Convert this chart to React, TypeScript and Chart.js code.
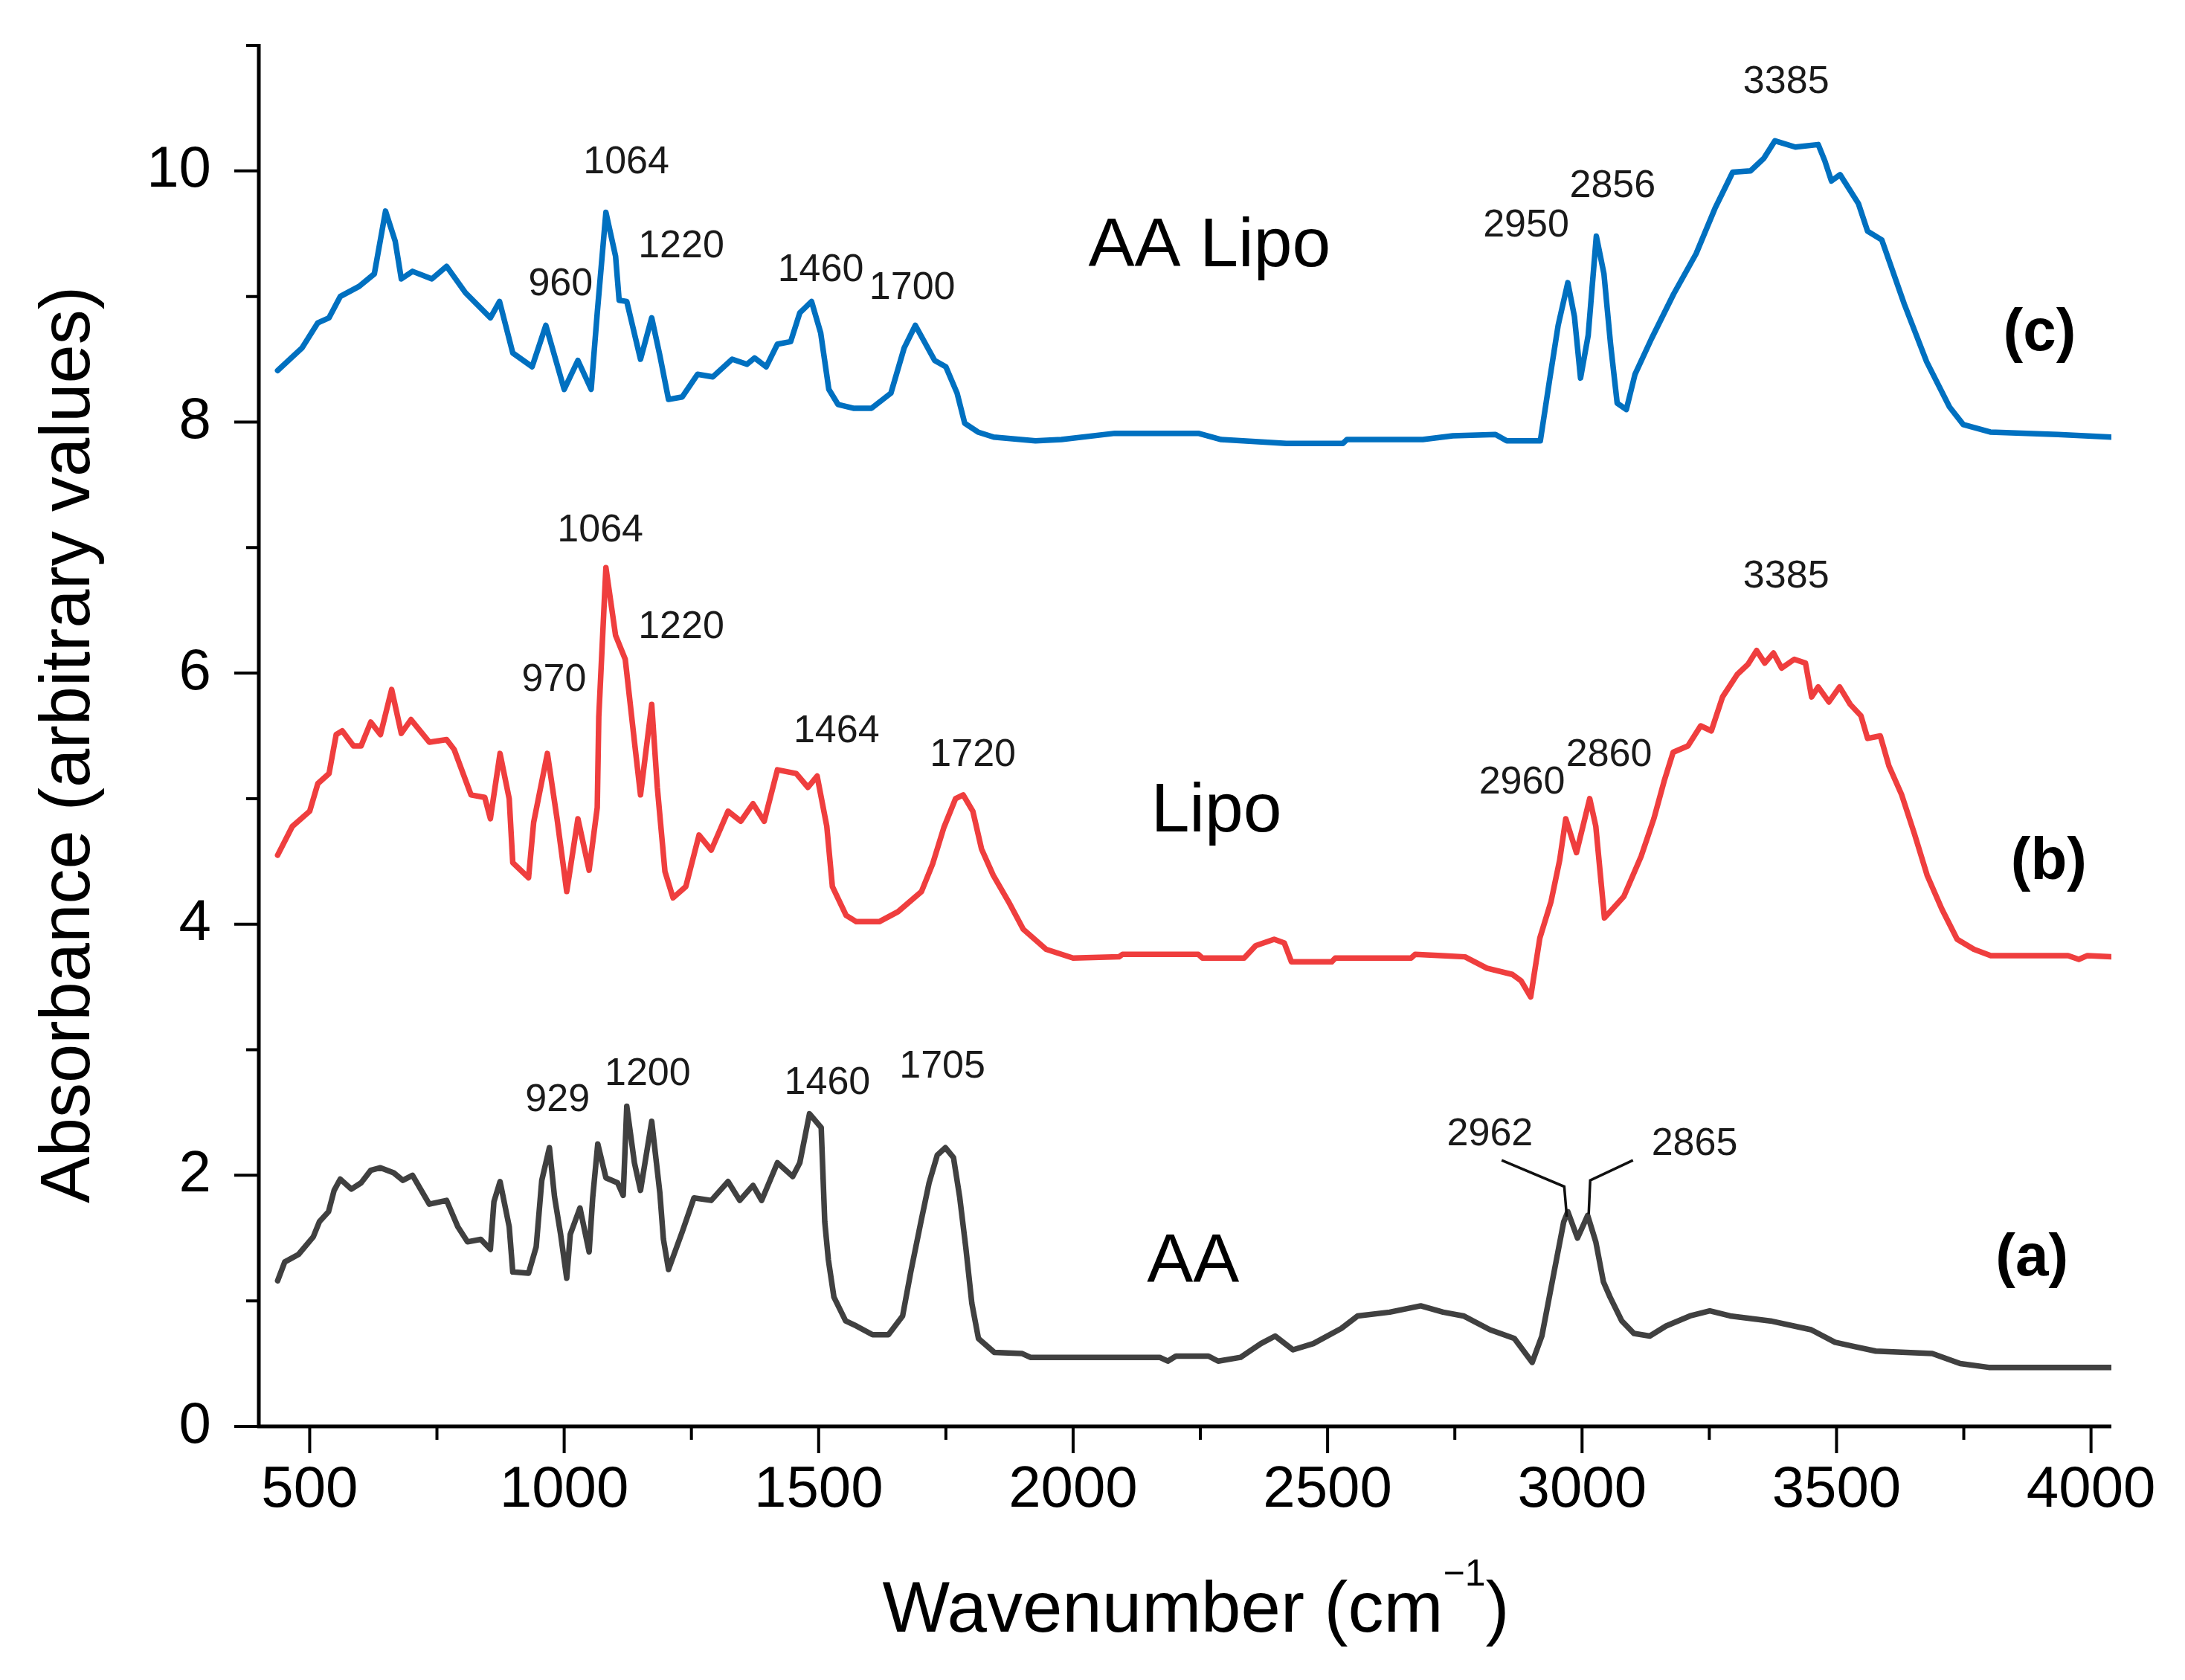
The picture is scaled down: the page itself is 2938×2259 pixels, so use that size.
import React, { useEffect, useRef } from 'react';
import Chart from 'chart.js/auto';

// FTIR spectra (wavenumber in cm-1, absorbance offset per sample)
const aaLipoWn = [437, 485, 516, 538, 560, 597, 627, 649, 668, 680, 702, 740, 769, 806, 855, 873, 899, 937, 964, 1000, 1027, 1053, 1065, 1082, 1101, 1108, 1123, 1150, 1172, 1188, 1205, 1232, 1262, 1292, 1330, 1359, 1374, 1397, 1419, 1445, 1463, 1486, 1504, 1520, 1538, 1568, 1604, 1642, 1668, 1690, 1728, 1750, 1772, 1787, 1813, 1844, 1926, 1977, 2082, 2246, 2291, 2419, 2530, 2538, 2687, 2746, 2830, 2852, 2918, 2936, 2953, 2972, 2985, 2997, 3012, 3028, 3043, 3056, 3069, 3087, 3104, 3136, 3180, 3224, 3261, 3296, 3331, 3357, 3379, 3419, 3464, 3477, 3490, 3507, 3543, 3561, 3589, 3633, 3677, 3722, 3749, 3802, 3935, 4040];
const aaLipoAbs = [8.41, 8.59, 8.79, 8.83, 9.0, 9.08, 9.18, 9.68, 9.44, 9.14, 9.2, 9.14, 9.24, 9.03, 8.83, 8.96, 8.55, 8.44, 8.77, 8.26, 8.49, 8.26, 8.87, 9.67, 9.32, 8.97, 8.96, 8.5, 8.83, 8.53, 8.18, 8.2, 8.38, 8.36, 8.5, 8.46, 8.51, 8.44, 8.62, 8.64, 8.87, 8.96, 8.71, 8.26, 8.14, 8.11, 8.11, 8.23, 8.59, 8.77, 8.49, 8.44, 8.23, 7.99, 7.92, 7.88, 7.85, 7.86, 7.91, 7.91, 7.86, 7.83, 7.83, 7.86, 7.86, 7.89, 7.9, 7.85, 7.85, 8.33, 8.77, 9.11, 8.84, 8.35, 8.69, 9.48, 9.18, 8.62, 8.15, 8.1, 8.38, 8.66, 9.02, 9.34, 9.7, 9.99, 10.0, 10.1, 10.24, 10.19, 10.21, 10.08, 9.92, 9.97, 9.74, 9.52, 9.45, 8.94, 8.48, 8.12, 7.98, 7.92, 7.9, 7.88];

const lipoWn = [437, 466, 500, 516, 538, 552, 564, 586, 601, 620, 639, 661, 680, 699, 735, 769, 784, 817, 844, 855, 874, 892, 899, 930, 940, 967, 986, 1005, 1027, 1049, 1065, 1068, 1082, 1101, 1120, 1139, 1150, 1172, 1183, 1198, 1214, 1239, 1265, 1289, 1322, 1347, 1371, 1393, 1419, 1456, 1479, 1497, 1516, 1527, 1554, 1574, 1619, 1656, 1702, 1724, 1746, 1769, 1784, 1803, 1820, 1843, 1873, 1902, 1947, 2000, 2090, 2097, 2246, 2254, 2336, 2359, 2395, 2415, 2429, 2508, 2515, 2664, 2672, 2724, 2770, 2813, 2863, 2880, 2899, 2917, 2939, 2956, 2968, 2989, 3015, 3027, 3044, 3082, 3116, 3141, 3162, 3179, 3208, 3233, 3254, 3276, 3305, 3326, 3343, 3359, 3376, 3392, 3417, 3439, 3451, 3464, 3485, 3506, 3527, 3548, 3561, 3586, 3603, 3628, 3653, 3678, 3707, 3737, 3770, 3803, 3955, 3976, 3993, 4040];
const lipoAbs = [4.55, 4.78, 4.9, 5.12, 5.2, 5.51, 5.54, 5.42, 5.42, 5.61, 5.51, 5.87, 5.52, 5.63, 5.45, 5.47, 5.39, 5.03, 5.01, 4.84, 5.36, 5.0, 4.49, 4.37, 4.81, 5.36, 4.84, 4.26, 4.84, 4.43, 4.93, 5.65, 6.84, 6.3, 6.11, 5.42, 5.03, 5.75, 5.09, 4.42, 4.21, 4.3, 4.71, 4.59, 4.9, 4.82, 4.96, 4.82, 5.23, 5.2, 5.09, 5.18, 4.78, 4.3, 4.07, 4.02, 4.02, 4.1, 4.26, 4.48, 4.77, 5.0, 5.03, 4.9, 4.6, 4.39, 4.18, 3.96, 3.8, 3.73, 3.74, 3.76, 3.76, 3.73, 3.73, 3.83, 3.88, 3.85, 3.7, 3.7, 3.73, 3.73, 3.76, 3.75, 3.74, 3.65, 3.6, 3.55, 3.42, 3.89, 4.18, 4.51, 4.84, 4.57, 5.0, 4.78, 4.05, 4.22, 4.54, 4.84, 5.15, 5.37, 5.42, 5.58, 5.54, 5.81, 5.99, 6.07, 6.18, 6.08, 6.16, 6.04, 6.11, 6.08, 5.81, 5.89, 5.77, 5.89, 5.75, 5.66, 5.48, 5.5, 5.26, 5.03, 4.72, 4.39, 4.12, 3.88, 3.8, 3.75, 3.75, 3.72, 3.75, 3.74];

const aaWn = [437, 451, 478, 507, 519, 537, 548, 560, 582, 601, 620, 639, 665, 683, 702, 735, 769, 791, 810, 836, 855, 862, 874, 892, 899, 930, 945, 956, 971, 981, 993, 1005, 1012, 1031, 1049, 1056, 1066, 1082, 1105, 1116, 1123, 1138, 1150, 1172, 1188, 1195, 1205, 1232, 1255, 1289, 1322, 1345, 1371, 1388, 1419, 1449, 1463, 1482, 1505, 1512, 1519, 1530, 1553, 1574, 1606, 1637, 1665, 1681, 1701, 1717, 1733, 1749, 1765, 1777, 1789, 1801, 1814, 1845, 1900, 1916, 2170, 2186, 2202, 2266, 2285, 2329, 2369, 2397, 2432, 2472, 2527, 2559, 2622, 2683, 2727, 2767, 2819, 2867, 2902, 2921, 2945, 2964, 2972, 2991, 3011, 3027, 3042, 3055, 3078, 3102, 3133, 3165, 3212, 3251, 3291, 3370, 3450, 3497, 3530, 3577, 3688, 3743, 3799, 4040];
const aaAbs = [1.16, 1.31, 1.37, 1.51, 1.63, 1.71, 1.88, 1.97, 1.89, 1.94, 2.04, 2.06, 2.02, 1.96, 2.0, 1.77, 1.8, 1.59, 1.47, 1.49, 1.41, 1.79, 1.95, 1.59, 1.23, 1.22, 1.43, 1.96, 2.22, 1.83, 1.53, 1.18, 1.53, 1.74, 1.39, 1.82, 2.25, 1.98, 1.94, 1.84, 2.55, 2.1, 1.88, 2.43, 1.86, 1.49, 1.25, 1.55, 1.82, 1.8, 1.95, 1.8, 1.92, 1.8, 2.1, 1.99, 2.1, 2.49, 2.38, 1.63, 1.33, 1.03, 0.84, 0.8, 0.73, 0.73, 0.88, 1.23, 1.63, 1.94, 2.16, 2.22, 2.14, 1.83, 1.43, 0.98, 0.7, 0.59, 0.58, 0.55, 0.55, 0.52, 0.56, 0.56, 0.52, 0.55, 0.66, 0.72, 0.61, 0.66, 0.78, 0.88, 0.91, 0.96, 0.91, 0.88, 0.77, 0.7, 0.51, 0.72, 1.23, 1.63, 1.71, 1.5, 1.68, 1.47, 1.15, 1.03, 0.84, 0.74, 0.72, 0.8, 0.88, 0.92, 0.88, 0.84, 0.77, 0.67, 0.64, 0.6, 0.58, 0.5, 0.47, 0.47];

// peak annotations: [text, wavenumber of label centre, absorbance of baseline]
const aaLipoPeaks: [string, number, number][] = [
  ['960', 993, 9.01], ['1064', 1122, 9.98], ['1220', 1230, 9.31], ['1460', 1504, 9.12],
  ['1700', 1684, 8.98], ['2950', 2890, 9.48], ['2856', 3060, 9.79], ['3385', 3401, 10.62],
];
const lipoPeaks: [string, number, number][] = [
  ['970', 980, 5.86], ['1064', 1071, 7.05], ['1220', 1230, 6.28], ['1464', 1535, 5.45],
  ['1720', 1803, 5.26], ['2960', 2882, 5.04], ['2860', 3053, 5.26], ['3385', 3401, 6.68],
];
const aaPeaks: [string, number, number][] = [
  ['929', 987, 2.51], ['1200', 1164, 2.72], ['1460', 1517, 2.65], ['1705', 1743, 2.78],
  ['2962', 2819, 2.24], ['2865', 3221, 2.16],
];
const aaLeaders: [number, number][][] = [
  [[2842, 2.12], [2965, 1.91], [2970, 1.67]],
  [[3100, 2.12], [3016, 1.96], [3013, 1.69]],
];

const sampleNames = ['AA Lipo', 'Lipo', 'AA'];
const sampleNameWn = [2030, 2153, 2145];
const sampleNameAbs = [9.24, 4.74, 1.15];
const panelTags = ['(c)', '(b)', '(a)'];
const panelTagWn = [3899, 3917, 3884];
const panelTagAbs = [8.57, 4.36, 1.2];

const xMajorTicks = [500, 1000, 1500, 2000, 2500, 3000, 3500, 4000];
const xMinorTicks = [750, 1250, 1750, 2250, 2750, 3250, 3750];
const yMajorTicks = [0, 2, 4, 6, 8, 10];
const yMinorTicks = [1, 3, 5, 7, 9, 11];

const FONT = "'Liberation Sans', Arial, Helvetica, sans-serif";

const toPoints = (wn: number[], abs: number[]) => wn.map((w, i) => ({ x: w, y: abs[i] }));

const decorPlugin = {
  id: 'decor',
  afterDraw(chart: any) {
    const { ctx, scales } = chart;
    const x = scales.x;
    const y = scales.y;
    const x0 = x.getPixelForValue(400);
    const x1 = x.getPixelForValue(4040);
    const y0 = y.getPixelForValue(0);
    const yTop = y.getPixelForValue(11);

    ctx.save();
    ctx.strokeStyle = '#000';
    ctx.lineCap = 'butt';

    // axis lines
    ctx.lineWidth = 5;
    ctx.beginPath();
    ctx.moveTo(x0, yTop - 2);
    ctx.lineTo(x0, y0);
    ctx.moveTo(x0 - 2, y0);
    ctx.lineTo(x1, y0);
    ctx.stroke();

    // tick marks
    ctx.lineWidth = 4;
    ctx.beginPath();
    xMajorTicks.forEach((v) => {
      const p = x.getPixelForValue(v);
      ctx.moveTo(p, y0);
      ctx.lineTo(p, y0 + 36);
    });
    xMinorTicks.forEach((v) => {
      const p = x.getPixelForValue(v);
      ctx.moveTo(p, y0);
      ctx.lineTo(p, y0 + 18);
    });
    yMajorTicks.forEach((v) => {
      const p = y.getPixelForValue(v);
      ctx.moveTo(x0, p);
      ctx.lineTo(x0 - 33, p);
    });
    yMinorTicks.forEach((v) => {
      const p = y.getPixelForValue(v);
      ctx.moveTo(x0, p);
      ctx.lineTo(x0 - 17, p);
    });
    ctx.stroke();

    // leader lines for the AA C-H peaks
    ctx.lineWidth = 3.5;
    ctx.strokeStyle = '#111';
    ctx.beginPath();
    aaLeaders.forEach((line) => {
      line.forEach(([w, a], i) => {
        const px = x.getPixelForValue(w);
        const py = y.getPixelForValue(a);
        if (i === 0) ctx.moveTo(px, py);
        else ctx.lineTo(px, py);
      });
    });
    ctx.stroke();

    // peak labels
    ctx.fillStyle = '#1a1a1a';
    ctx.textAlign = 'center';
    ctx.textBaseline = 'alphabetic';
    ctx.font = `52px ${FONT}`;
    [...aaLipoPeaks, ...lipoPeaks, ...aaPeaks].forEach(([t, w, a]) => {
      ctx.fillText(t, x.getPixelForValue(w), y.getPixelForValue(a));
    });

    // sample names
    ctx.fillStyle = '#000';
    ctx.textAlign = 'left';
    ctx.font = `93px ${FONT}`;
    sampleNames.forEach((t, i) => {
      ctx.fillText(t, x.getPixelForValue(sampleNameWn[i]), y.getPixelForValue(sampleNameAbs[i]));
    });

    // panel tags
    ctx.textAlign = 'center';
    ctx.font = `bold 80px ${FONT}`;
    panelTags.forEach((t, i) => {
      ctx.fillText(t, x.getPixelForValue(panelTagWn[i]), y.getPixelForValue(panelTagAbs[i]));
    });

    // y axis title
    ctx.save();
    ctx.translate(120, (yTop + y0) / 2 + 12);
    ctx.rotate(-Math.PI / 2);
    ctx.font = `94px ${FONT}`;
    ctx.textAlign = 'center';
    ctx.fillText('Absorbance (arbitrary values)', 0, 0);
    ctx.restore();

    // x axis title with superscript
    const main = 'Wavenumber (cm';
    const sup = '\u22121';
    const close = ')';
    const mainFont = `96px ${FONT}`;
    const supFont = `50px ${FONT}`;
    ctx.textAlign = 'left';
    ctx.font = mainFont;
    const wMain = ctx.measureText(main).width;
    const wClose = ctx.measureText(close).width;
    ctx.font = supFont;
    const wSup = ctx.measureText(sup).width;
    const total = wMain + wSup + wClose;
    const startX = 1608 - total / 2;
    const base = 2194;
    ctx.font = mainFont;
    ctx.fillText(main, startX, base);
    ctx.font = supFont;
    ctx.fillText(sup, startX + wMain, base - 62);
    ctx.font = mainFont;
    ctx.fillText(close, startX + wMain + wSup, base);

    ctx.restore();
  },
};

const App: React.FC = () => {
  const canvasRef = useRef<HTMLCanvasElement>(null);
  const chartRef = useRef<Chart | null>(null);

  useEffect(() => {
    document.body.style.margin = '0';
    if (!canvasRef.current) return;
    if (chartRef.current) chartRef.current.destroy();

    const lineStyle = {
      showLine: true,
      pointRadius: 0,
      borderWidth: 7.5,
      tension: 0,
      borderJoinStyle: 'round' as const,
      borderCapStyle: 'round' as const,
      fill: false,
    };

    chartRef.current = new Chart(canvasRef.current, {
      type: 'scatter',
      data: {
        datasets: [
          { label: 'AA', data: toPoints(aaWn, aaAbs), borderColor: '#404040', backgroundColor: '#404040', ...lineStyle },
          { label: 'Lipo', data: toPoints(lipoWn, lipoAbs), borderColor: '#EF3E3E', backgroundColor: '#EF3E3E', ...lineStyle },
          { label: 'AA Lipo', data: toPoints(aaLipoWn, aaLipoAbs), borderColor: '#0070C0', backgroundColor: '#0070C0', ...lineStyle },
        ],
      },
      options: {
        animation: false,
        responsive: true,
        maintainAspectRatio: false,
        devicePixelRatio: 1,
        events: [],
        layout: { padding: { left: 0, top: 61, right: 99, bottom: 0 } },
        plugins: {
          legend: { display: false },
          tooltip: { enabled: false },
          title: { display: false },
        },
        scales: {
          x: {
            type: 'linear',
            min: 400,
            max: 4040,
            grid: { display: false, drawTicks: false },
            border: { display: false },
            afterBuildTicks: (s: any) => {
              s.ticks = xMajorTicks.map((v) => ({ value: v }));
            },
            afterFit: (s: any) => {
              s.height = 341;
              s.paddingLeft = 0;
              s.paddingRight = 0;
            },
            ticks: {
              font: { family: FONT, size: 78 },
              color: '#000',
              padding: 40,
              maxRotation: 0,
              autoSkip: false,
              callback: (v: any) => String(v),
            },
          },
          y: {
            type: 'linear',
            min: 0,
            max: 11,
            grid: { display: false, drawTicks: false },
            border: { display: false },
            afterBuildTicks: (s: any) => {
              s.ticks = yMajorTicks.map((v) => ({ value: v }));
            },
            afterFit: (s: any) => {
              s.width = 348;
              s.paddingTop = 0;
              s.paddingBottom = 0;
            },
            ticks: {
              font: { family: FONT, size: 78 },
              color: '#000',
              padding: 64,
              autoSkip: false,
              callback: (v: any) => String(v),
            },
          },
        },
      },
      plugins: [decorPlugin],
    });

    return () => {
      if (chartRef.current) {
        chartRef.current.destroy();
        chartRef.current = null;
      }
    };
  }, []);

  return (
    <div style={{ position: 'relative', width: '2938px', height: '2259px', background: '#fff' }}>
      <canvas ref={canvasRef} />
    </div>
  );
};

export default App;
